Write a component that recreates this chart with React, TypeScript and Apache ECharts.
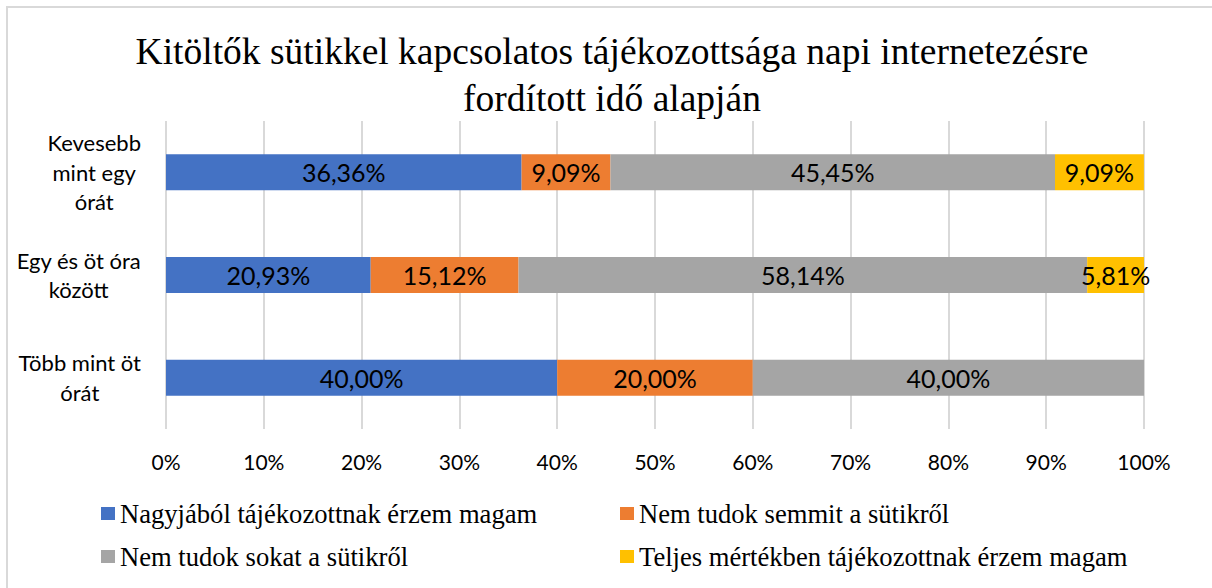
import React, { useEffect, useRef } from "react";
import * as echarts from "echarts";

const categories = ["Kevesebb mint egy órát", "Egy és öt óra között", "Több mint öt órát"];
const categoryLines = [["Kevesebb", "mint egy", "órát"], ["Egy és öt óra", "között"], ["Több mint öt", "órát"]];
const seriesNames = [
  "Nagyjából tájékozottnak érzem magam",
  "Nem tudok semmit a sütikről",
  "Nem tudok sokat a sütikről",
  "Teljes mértékben tájékozottnak érzem magam",
];
const nagyjabol = [36.36, 20.93, 40.0];
const semmit = [9.09, 15.12, 20.0];
const sokat = [45.45, 58.14, 40.0];
const teljes = [9.09, 5.81, null];
const colors = ["#4472C4", "#ED7D31", "#A5A5A5", "#FFC000"];
const xTicks = [0, 10, 20, 30, 40, 50, 60, 70, 80, 90, 100];

const SANS = "Lato, 'Open Sans', sans-serif";
const SERIF = "'Liberation Serif', 'DejaVu Serif', serif";

export default function App() {
  const ref = useRef<HTMLDivElement>(null);
  useEffect(() => {
    const chart = echarts.init(ref.current!, null, { renderer: "svg" });
    const values = [nagyjabol, semmit, sokat, teljes];
    const legendPos = [
      { left: 101, top: 500 },
      { left: 620, top: 500 },
      { left: 101, top: 543 },
      { left: 620, top: 543 },
    ];
    chart.setOption({
      animation: false,
      backgroundColor: "#ffffff",
      title: {
        text: "Kitöltők sütikkel kapcsolatos tájékozottsága napi internetezésre\nfordított idő alapján",
        left: 612,
        top: 28,
        padding: 0,
        textAlign: "center",
        textStyle: {
          fontFamily: SERIF,
          fontSize: 37.5,
          fontWeight: "normal",
          color: "#000000",
          lineHeight: 47,
        },
      },
      graphic: [
        {
          type: "rect",
          shape: { x: 7, y: 7, width: 1400, height: 800 },
          style: { fill: "none", stroke: "#d9d9d9", lineWidth: 2 },
          silent: true,
        },
      ],
      legend: seriesNames.map((name, i) => ({
        data: [name],
        left: legendPos[i].left,
        top: legendPos[i].top,
        padding: 0,
        itemWidth: 14,
        itemHeight: 13,
        icon: "rect",
        textStyle: { fontFamily: SERIF, fontSize: 26.6, color: "#000000" },
        selectedMode: false,
      })),
      grid: { left: 166, right: 68, top: 121, bottom: 159, containLabel: false },
      xAxis: {
        type: "value",
        min: 0,
        max: 100,
        interval: 10,
        axisLine: { show: false },
        axisTick: { show: false },
        splitLine: { show: true, lineStyle: { color: "#d9d9d9", width: 2 } },
        axisLabel: {
          margin: 22,
          fontFamily: SANS,
          fontSize: 21,
          color: "#000000",
          formatter: (v: number) => (xTicks.includes(v) ? v + "%" : ""),
        },
      },
      yAxis: {
        type: "category",
        data: categories,
        inverse: true,
        axisLine: { show: false },
        axisTick: { show: false },
        axisLabel: {
          margin: 25,
          fontFamily: SANS,
          fontSize: 22,
          color: "#000000",
          formatter: (v: string) => {
            const idx = categories.indexOf(v);
            return categoryLines[idx].map((l) => "{c|" + l + "}").join("\n");
          },
          rich: {
            c: { align: "center", fontFamily: SANS, fontSize: 22, color: "#000000", lineHeight: 29.5 },
          },
        },
      },
      series: seriesNames.map((name, i) => ({
        name,
        type: "bar",
        stack: "total",
        barWidth: 36,
        data: values[i],
        itemStyle: { color: colors[i] },
        label: {
          show: true,
          position: "inside",
          fontFamily: SANS,
          fontSize: 25,
          color: "#000000",
          formatter: (p: any) =>
            p.value == null ? "" : Number(p.value).toFixed(2).replace(".", ",") + "%",
        },
      })),
    });
    return () => chart.dispose();
  }, []);
  return (
    <div
      ref={ref}
      style={{ position: "fixed", left: 0, top: 0, width: 1212, height: 588 }}
    />
  );
}
